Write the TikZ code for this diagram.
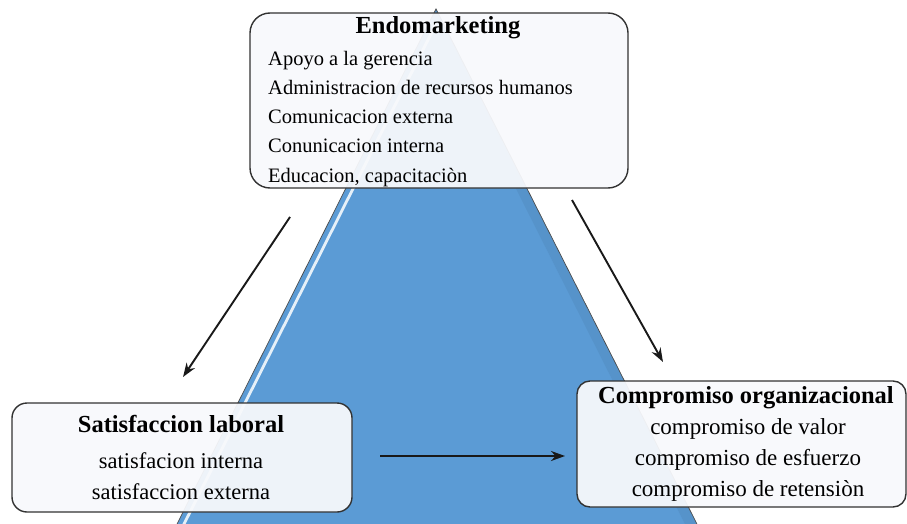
\documentclass[tikz,border=0pt]{standalone}
\usepackage{fontspec}
\setmainfont{Liberation Serif}
\usetikzlibrary{arrows.meta}
\definecolor{triblue}{RGB}{91,155,213}
\definecolor{boxline}{RGB}{50,50,50}
\definecolor{boxfill}{RGB}{248,249,252}

\begin{document}
\begin{tikzpicture}[x=1pt,y=-1pt,>={Stealth[length=14pt,width=10pt]},
  box/.style={draw=boxline,line width=1.4pt,fill=boxfill,fill opacity=0.94,inner sep=0pt},
  ttl/.style={anchor=base,inner sep=0pt,font=\fontsize{24.5}{28}\selectfont\bfseries},
  itm/.style={anchor=base,inner sep=0pt},
  flow/.style={->,line width=1.9pt,black!90}]
\useasboundingbox (0,0) rectangle (907,524);
% pyramid in the back
\begin{scope}\clip (0,0) rectangle (907,524);
\fill[triblue] (436,9)--(174,530)--(700,530)--cycle;\fill[triblue!80!black,opacity=0.25] (436,9)--(700,530)--(688,530)--(436,30)--cycle;
\draw[white,opacity=0.85,line width=2.8pt] (436,24)--(181,530);
\draw[black!70,line width=0.7pt] (174,530)--(436,9)--(700,530);
\end{scope}
% boxes
\node[box,rounded corners=20pt,minimum width=378pt,minimum height=175pt] (endo) at (439,100.5) {};
\node[box,rounded corners=15pt,minimum width=340pt,minimum height=109pt] (sat) at (182,457.5) {};
\node[box,rounded corners=13pt,minimum width=329pt,minimum height=126pt] (comp) at (741.5,444) {};
% texts
\node[ttl] (endot) at (438,34) {Endomarketing};
\foreach \t [count=\i] in {Apoyo a la gerencia,Administracion de recursos humanos,Comunicacion externa,Conunicacion interna,{Educacion, capacitaciòn}}
  {\node[itm,anchor=base west,font=\fontsize{20.5}{24}\selectfont] (endo\i) at (268,37+29*\i) {\t};}
\node[ttl] (satt) at (181,432) {Satisfaccion laboral};
\node[itm,font=\fontsize{22.5}{26}\selectfont] (sat1) at (181,468) {satisfacion interna};\node[itm,font=\fontsize{22.5}{26}\selectfont] (sat2) at (181,499) {satisfaccion externa};
\node[ttl] (compt) at (746,403) {Compromiso organizacional};
\foreach \t [count=\i] in {compromiso de valor,compromiso de esfuerzo,compromiso de retensiòn}
  {\node[itm,font=\fontsize{23}{27}\selectfont] (comp\i) at (748,403+31*\i) {\t};}
% arrows
\coordinate (l0) at (290,217);\coordinate (l1) at (183,377);\coordinate (r0) at (572,200);\coordinate (r1) at (663,362);
\coordinate (h0) at (380,456);\coordinate (h1) at (565,456);
\draw[flow] (l0)--(l1);\draw[flow] (r0)--(r1);\draw[flow] (h0)--(h1);
\end{tikzpicture}
\end{document}
